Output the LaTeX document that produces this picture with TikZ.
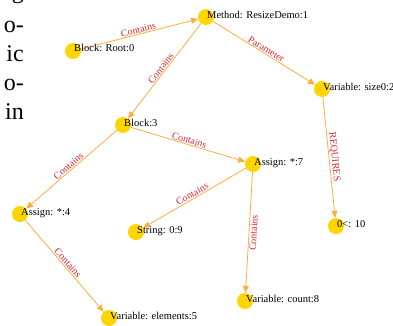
\documentclass[tikz,border=0pt]{standalone}
\usepackage{fontspec}
\setmainfont{Liberation Serif}
\usetikzlibrary{arrows.meta}
\definecolor{nodey}{RGB}{255,213,0}
\definecolor{edgeo}{RGB}{255,172,64}
\definecolor{labr}{RGB}{218,40,50}
\begin{document}
\begin{tikzpicture}[x=1pt,y=-1pt,
  dot/.style={circle,fill=nodey,minimum size=16pt,inner sep=0pt},
  txt/.style={anchor=base west,inner sep=0pt,font=\fontsize{10.5}{12}\selectfont},
  rel/.style={draw=edgeo,line width=0.8pt,-{Triangle[length=7pt,width=6pt]}},
  lab/.style={midway,sloped,inner sep=0.8pt,text=labr,font=\fontsize{10}{12}\selectfont},
  side/.style={anchor=base east,inner sep=0pt,font=\fontsize{24}{28}\selectfont}]
\useasboundingbox (0,0) rectangle (393,325);
% side text (cut-off paragraph)
\node[side] (s0) at (24,-2) {g};
\node[side] (s1) at (24,32) {o-};
\node[side] (s2) at (24,61) {ic};
\node[side] (s3) at (24,90) {o-};
\node[side] (s4) at (24,119) {in};
% nodes
\node[dot] (n0) at (73,51) {};
\node[dot] (n1) at (206,17) {};
\node[dot] (n2) at (322,89) {};
\node[dot] (n3) at (123,125) {};
\node[dot] (n4) at (20,214) {};
\node[dot] (n5) at (109,318) {};
\node[dot] (n7) at (253,164) {};
\node[dot] (n8) at (245,301) {};
\node[dot] (n9) at (136,232) {};
\node[dot] (n10) at (336,226) {};
% edges
\draw[rel] (n0) -- node[lab,above] (e1) {Contains} (n1);
\draw[rel] (n1) -- node[lab,above] (e2) {Contains} (n3);
\draw[rel] (n1) -- node[lab,above] (e3) {Parameter} (n2);
\draw[rel] (n2) -- node[lab,above] (e4) {REQUIRES} (n10);
\draw[rel] (n3) -- node[lab,above] (e5) {Contains} (n4);
\draw[rel] (n3) -- node[lab,above] (e6) {Contains} (n7);
\draw[rel] (n7) -- node[lab,above] (e7) {Contains} (n9);
\draw[rel] (n7) -- node[lab,below] (e8) {Contains} (n8);
\draw[rel] (n4) -- node[lab,above] (e9) {Contains} (n5);
% node texts
\node[txt] (t0) at (74,51) {Block: Root:0};
\node[txt] (t1) at (207,18) {Method: ResizeDemo:1};
\node[txt] (t2) at (323,90) {Variable: size0:2};
\node[txt] (t3) at (124,126) {Block:3};
\node[txt] (t4) at (21,215) {Assign: *:4};
\node[txt] (t5) at (110,319) {Variable: elements:5};
\node[txt] (t7) at (254,165) {Assign: *:7};
\node[txt] (t8) at (246,302) {Variable: count:8};
\node[txt] (t9) at (137,233) {String: 0:9};
\node[txt] (t10) at (337,227) {0<: 10};
\end{tikzpicture}
\end{document}
